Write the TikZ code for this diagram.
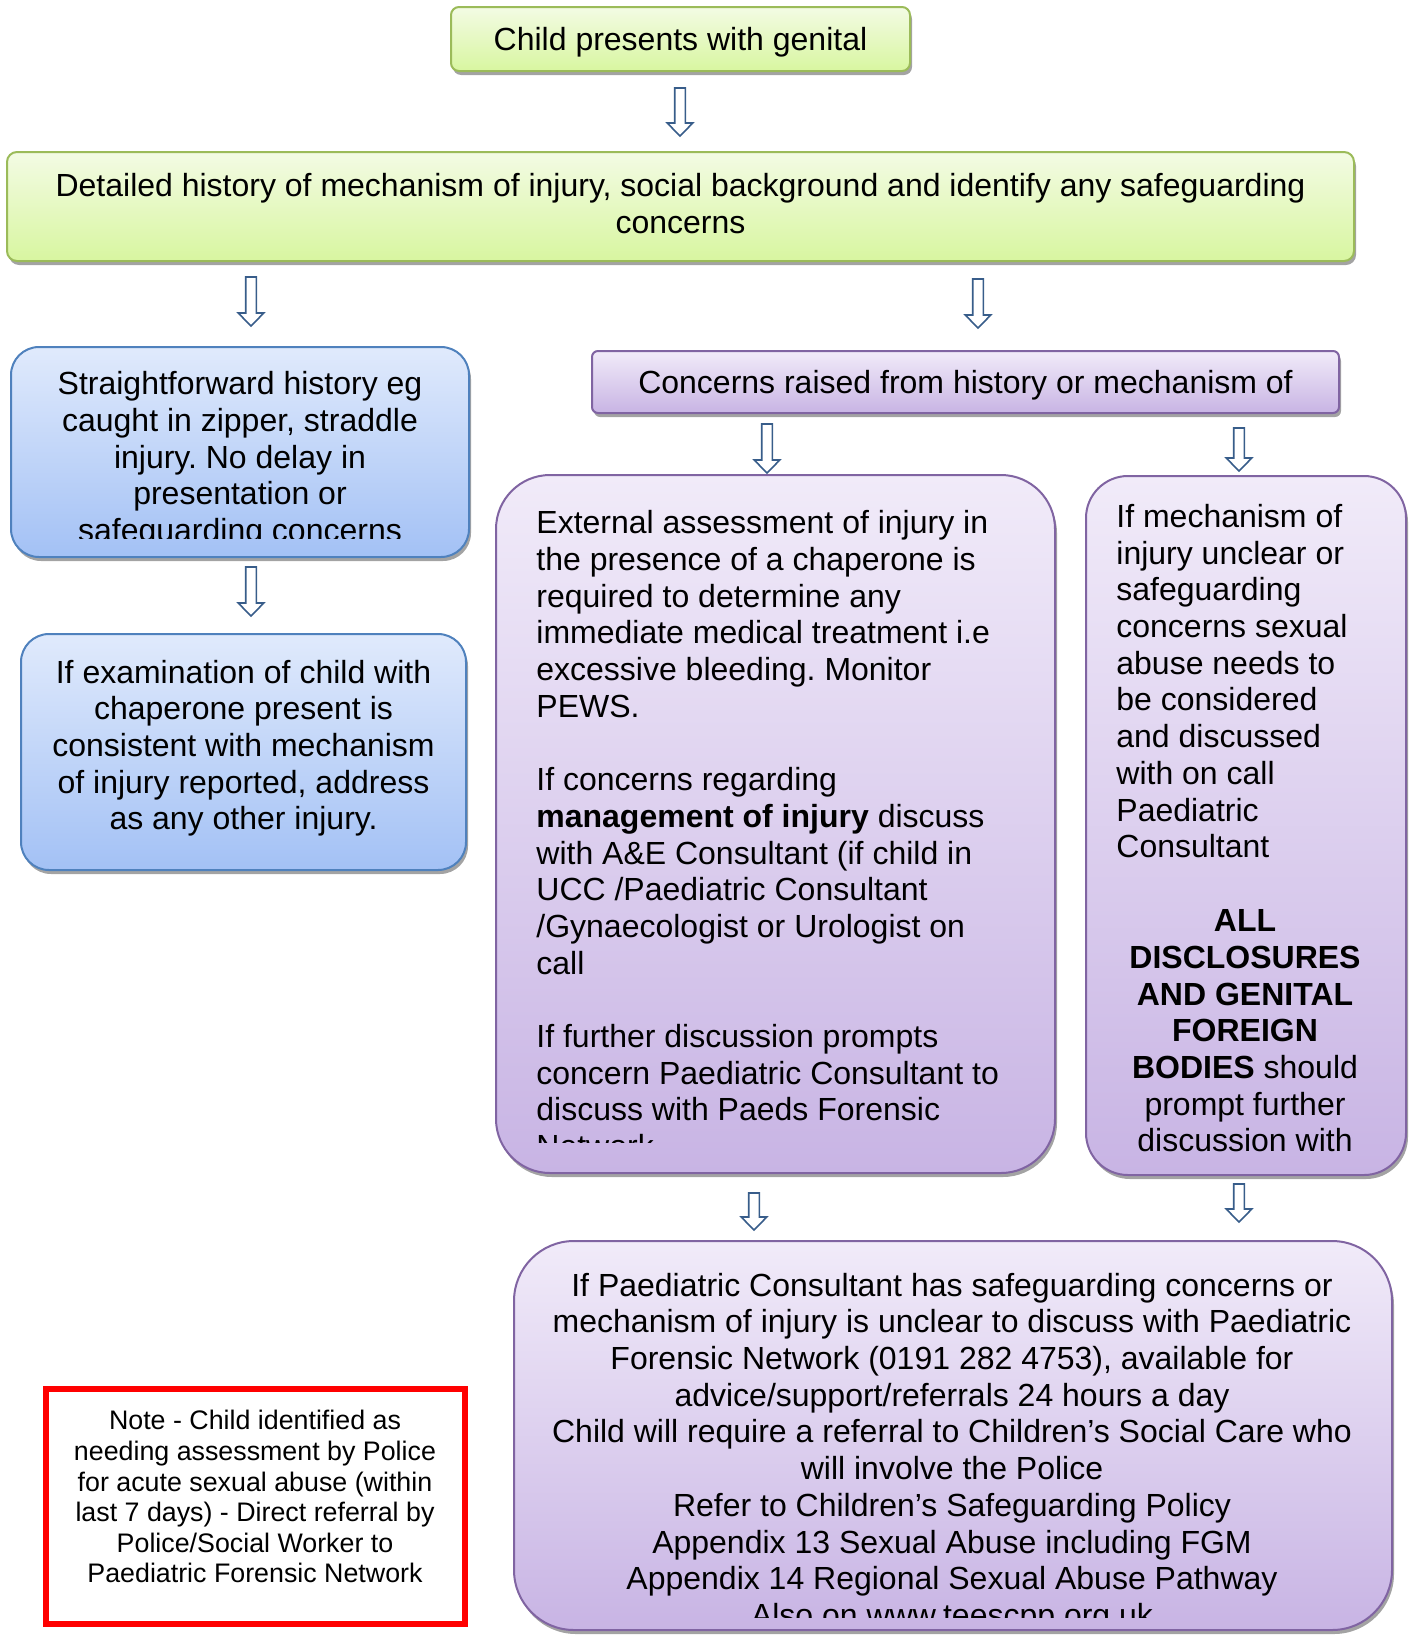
\documentclass[tikz,border=0pt]{standalone}
\usepackage{fontspec}
\setmainfont{Liberation Sans}
\frenchspacing
\usetikzlibrary{shadows}
\definecolor{arrowblue}{RGB}{56,93,138}
\definecolor{greenedge}{RGB}{155,187,89}
\definecolor{greentop}{RGB}{243,251,228}
\definecolor{greenbot}{RGB}{216,246,160}
\definecolor{blueedge}{RGB}{79,129,189}
\definecolor{bluetop}{RGB}{224,234,252}
\definecolor{bluebot}{RGB}{163,193,245}
\definecolor{purpleedge}{RGB}{128,100,162}
\definecolor{purpletop}{RGB}{241,235,249}
\definecolor{purplebot}{RGB}{200,180,228}
\definecolor{notered}{RGB}{255,0,0}
\begin{document}
\begin{tikzpicture}[x=0.5pt,y=-0.5pt,
  txt/.style={font=\fontsize{16}{18.35}\selectfont, inner sep=0pt},
  notetxt/.style={font=\fontsize{13.4}{15.3}\selectfont, inner sep=0pt},
  box/.style={line width=1pt, inner sep=0pt,
    drop shadow={shadow xshift=1pt, shadow yshift=-2pt, fill=black!60, opacity=0.6}},
  greenbox/.style={box, draw=greenedge, top color=greentop, bottom color=greenbot, rounded corners=4pt},
  bluebox/.style={box, draw=blueedge, top color=bluetop, bottom color=bluebot, rounded corners=14pt},
  purplebox/.style={box, draw=purpleedge, top color=purpletop, bottom color=purplebot},
  notebox/.style={draw=notered, line width=2.6pt, fill=white, inner sep=0pt},
  arrowline/.style={draw=arrowblue, fill=white, line width=0.8pt, line join=miter},
  pics/downarrow/.style={code={
    \path[arrowline] (-5.3,0) -- (5.3,0) -- (5.3,#1-13) -- (12.8,#1-13) -- (0,#1)
      -- (-12.8,#1-13) -- (-5.3,#1-13) -- cycle;}}
]
\useasboundingbox (0,0) rectangle (1412,1638);

% ---- boxes ----
\node[greenbox, minimum width=229.5pt, minimum height=32pt] (present) at (680.5,39) {};
\node[greenbox, rounded corners=5pt, minimum width=673.5pt, minimum height=54.5pt] (history) at (680.5,206.5) {};
\node[bluebox, minimum width=229pt, minimum height=105pt] (simple) at (240,452) {};
\node[bluebox, minimum width=222.5pt, minimum height=118pt] (exam) at (243.5,752) {};
\node[purplebox, rounded corners=3pt, minimum width=373.5pt, minimum height=31pt] (concerns) at (965.5,382) {};
\node[purplebox, rounded corners=27pt, minimum width=279.5pt, minimum height=349pt] (assess) at (775.5,824) {};
\node[purplebox, rounded corners=21pt, minimum width=160pt, minimum height=349.5pt] (unclear) at (1246,825.5) {};
\node[purplebox, rounded corners=30pt, minimum width=439pt, minimum height=194.5pt] (forensic) at (953,1435.5) {};
\node[notebox, minimum width=209.5pt, minimum height=117.5pt] (note) at (255.5,1506.5) {};

% ---- box texts ----
\node[txt, anchor=north] (presentText) at (680.5,24)
  {\strut Child presents with genital};
\node[txt, anchor=north, align=center] (historyText) at (680.5,170.3)
  {\strut Detailed history of mechanism of injury, social background and identify any safeguarding\\concerns};
\begin{scope}
  \clip (11,347) rectangle (469,538);
  \node[txt, anchor=north, align=center] (simpleText) at (240,368.7)
    {\strut Straightforward history eg\\caught in zipper, straddle\\injury. No delay in\\presentation or\\safeguarding concerns};
\end{scope}
\node[txt, anchor=north, align=center] (examText) at (243.5,657)
  {\strut If examination of child with\\chaperone present is\\consistent with mechanism\\of injury reported, address\\as any other injury.};
\node[txt, anchor=north] (concernsText) at (965.5,367.7)
  {\strut Concerns raised from history or mechanism of};
\begin{scope}
  \clip (496,475) rectangle (1055,1142);
  \node[txt, anchor=north west, align=left] (assessText) at (536,507.6)
    {\strut External assessment of injury in\\the presence of a chaperone is\\required to determine any\\immediate medical treatment i.e\\excessive bleeding. Monitor\\PEWS.\\[18.35pt]
     If concerns regarding\\\textbf{management of injury} discuss\\with A\&E Consultant (if child in\\UCC /Paediatric Consultant\\/Gynaecologist or Urologist on\\call\\[18.35pt]
     If further discussion prompts\\concern Paediatric Consultant to\\discuss with Paeds Forensic\\Network};
\end{scope}
\node[txt, anchor=north west, align=left] (unclearText) at (1116,501.3)
  {\strut If mechanism of\\injury unclear or\\safeguarding\\concerns sexual\\abuse needs to\\be considered\\and discussed\\with on call\\Paediatric\\Consultant};
\node[txt, anchor=north, align=center] (disclosureText) at (1245,905.5)
  {\strut\textbf{ALL}\\\textbf{DISCLOSURES}\\\textbf{AND GENITAL}\\\textbf{FOREIGN}\\\textbf{BODIES} should\\prompt further\\discussion with};
\begin{scope}
  \clip (514,1241) rectangle (1392,1617);
  \node[txt, anchor=north, align=center] (forensicText) at (952,1270)
    {\strut If Paediatric Consultant has safeguarding concerns or\\mechanism of injury is unclear to discuss with Paediatric\\Forensic Network (0191 282 4753), available for\\advice/support/referrals 24 hours a day\\Child will require a referral to Children’s Social Care who\\will involve the Police\\Refer to Children’s Safeguarding Policy\\Appendix 13 Sexual Abuse including FGM\\Appendix 14 Regional Sexual Abuse Pathway\\Also on www.teescpp.org.uk};
\end{scope}
\node[notetxt, anchor=north, align=center] (noteText) at (255,1408)
  {\strut Note - Child identified as\\needing assessment by Police\\for acute sexual abuse (within\\last 7 days) - Direct referral by\\Police/Social Worker to\\Paediatric Forensic Network};

% ---- block arrows between the steps ----
\pic at (680,88) {downarrow=48};
\pic at (251,277) {downarrow=49};
\pic at (978,279) {downarrow=49};
\pic at (251,567) {downarrow=49};
\pic at (767,424) {downarrow=49};
\pic at (1239,428) {downarrow=43};
\pic at (754,1193) {downarrow=37};
\pic at (1239,1184) {downarrow=38};
\end{tikzpicture}
\end{document}
